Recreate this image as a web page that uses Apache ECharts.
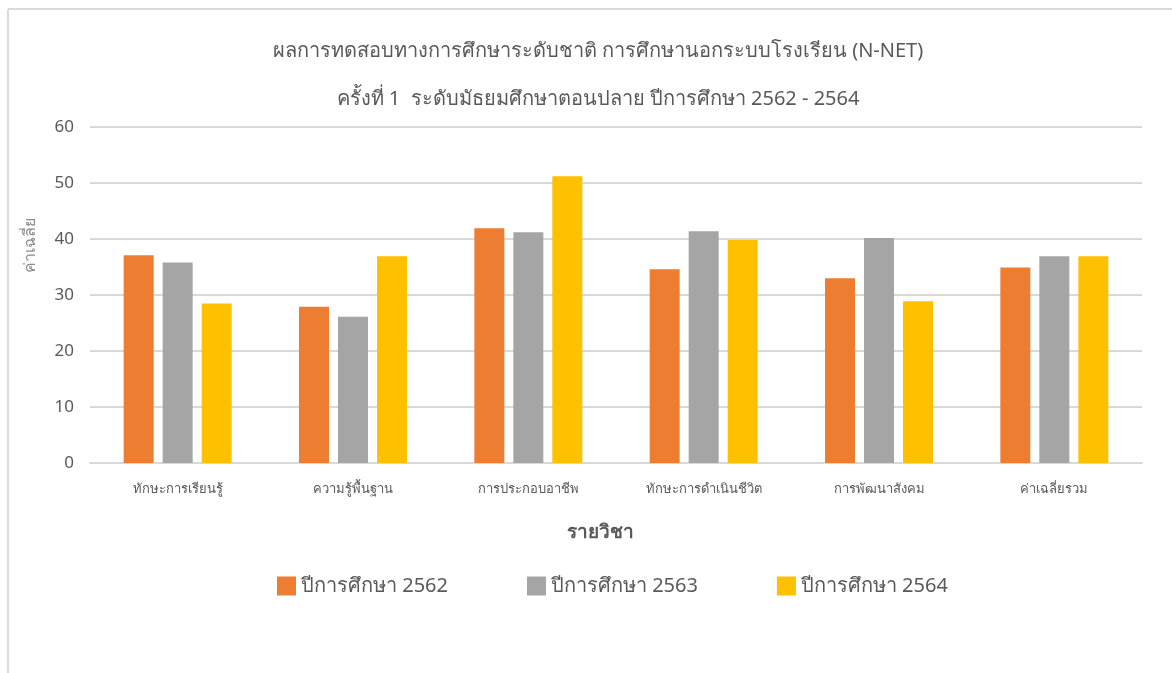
<!DOCTYPE html>
<html lang="th">
<head>
    <meta charset="UTF-8">
    <title>N-NET 2562 - 2564</title>
    <script src="https://cdn.jsdelivr.net/npm/echarts@6/dist/echarts.min.js"></script>
    <style>
        html, body{
            margin: 0;
            padding: 0;
            background-color: white;
        }
        #chart{
            width: 1172px;
            height: 673px;
        }
    </style>
</head>
<body>
    <div id="chart"></div>
</body>
<script>
    var categories = ["ทักษะการเรียนรู้", "ความรู้พื้นฐาน", "การประกอบอาชีพ", "ทักษะการดำเนินชีวิต", "การพัฒนาสังคม", "ค่าเฉลี่ยรวม"];
    var seriesNames = ["ปีการศึกษา 2562", "ปีการศึกษา 2563", "ปีการศึกษา 2564"];
    var y2562 = [37.1, 27.9, 41.9, 34.6, 33.0, 34.9];
    var y2563 = [35.8, 26.1, 41.2, 41.4, 40.2, 36.9];
    var y2564 = [28.5, 36.9, 51.2, 39.8, 28.9, 36.9];
    var colors = ["#ED7D31", "#A5A5A5", "#FFC000"];
    var font = "'Noto Sans', 'DejaVu Sans', sans-serif";

    var chart = echarts.init(document.getElementById('chart'));
    var values = [y2562, y2563, y2564];
    var series = seriesNames.map(function (name, i) {
        return {
            name: name,
            type: 'bar',
            barWidth: 30,
            barGap: '30%',
            itemStyle: {color: colors[i]},
            data: values[i]
        };
    });

    var option = {
        animation: false,
        textStyle: {fontFamily: font},
        title: [{
            text: 'ผลการทดสอบทางการศึกษาระดับชาติ การศึกษานอกระบบโรงเรียน (N-NET)',
            left: 593, top: 36, textAlign: 'center',
            textStyle: {fontSize: 20, fontWeight: 'normal', color: '#595959'}
        }, {
            text: 'ครั้งที่ 1  ระดับมัธยมศึกษาตอนปลาย ปีการศึกษา 2562 - 2564',
            left: 593, top: 84, textAlign: 'center',
            textStyle: {fontSize: 20, fontWeight: 'normal', color: '#595959'}
        }],
        legend: {
            left: 272, top: 571,
            itemWidth: 19, itemHeight: 19, itemGap: 79,
            icon: 'rect',
            textStyle: {fontSize: 20, color: '#595959'},
            data: seriesNames
        },
        grid: {left: 90, right: 30, top: 127, bottom: 210},
        xAxis: {
            type: 'category',
            data: categories,
            axisLine: {lineStyle: {color: '#d9d9d9', width: 2}},
            axisTick: {show: false},
            axisLabel: {fontSize: 13, color: '#595959', margin: 20}
        },
        yAxis: {
            type: 'value',
            min: 0, max: 60, interval: 10,
            axisLine: {show: false},
            axisTick: {show: false},
            axisLabel: {fontSize: 17, color: '#595959', margin: 16},
            splitLine: {lineStyle: {color: '#d9d9d9', width: 2}}
        },
        graphic: [
            {type: 'line', shape: {x1: 8, y1: 9, x2: 1172, y2: 9}, style: {stroke: '#d9d9d9', lineWidth: 2}},
            {type: 'line', shape: {x1: 8, y1: 9, x2: 8, y2: 673}, style: {stroke: '#d9d9d9', lineWidth: 2}},
            {type: 'text', x: 30, y: 245, rotation: Math.PI / 2,
                style: {text: 'ค่าเฉลี่ย', fontSize: 16, fill: '#8c8c8c', align: 'center', verticalAlign: 'middle', fontFamily: font}},
            {type: 'text', x: 600, y: 533,
                style: {text: 'รายวิชา', fontSize: 19, fontWeight: 'bold', fill: '#595959', align: 'center', verticalAlign: 'middle', fontFamily: font}}
        ],
        series: series
    };
    chart.setOption(option);
</script>
</html>
